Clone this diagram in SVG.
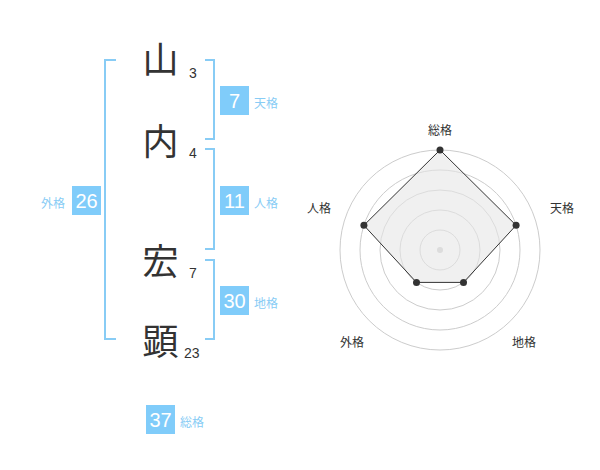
<svg xmlns="http://www.w3.org/2000/svg" width="600" height="470" viewBox="0 0 600 470">
<style>
.ch{font-family:"Noto Sans CJK JP","Noto Sans CJK SC",sans-serif;font-size:36px;fill:#333;text-anchor:middle}
.num{font-family:"Liberation Sans",Arial,sans-serif;font-size:14px;fill:#333}
.br{fill:none;stroke:#88ccf5;stroke-width:2}
.box{fill:#80ccfa}
.bt{font-family:"Liberation Sans",Arial,sans-serif;font-size:20px;fill:#fff;text-anchor:middle}
.lb{font-family:"Noto Sans CJK JP","Noto Sans CJK SC",sans-serif;font-size:12px;fill:#88ccf5}
.rl{font-family:"Noto Sans CJK JP","Noto Sans CJK SC",sans-serif;font-size:12px;fill:#333;text-anchor:middle}
.ring{fill:none;stroke:#ccc;stroke-width:1}
.pt{fill:#333}
</style>
<rect width="600" height="470" fill="#fff"/>
<g id="name">
<text class="ch" x="160.5" y="73">山</text>
<text class="ch" x="160.5" y="155">内</text>
<text class="ch" x="160.5" y="275">宏</text>
<text class="ch" x="160.5" y="355">顕</text>
<text class="num" x="189" y="78">3</text>
<text class="num" x="189" y="158">4</text>
<text class="num" x="189" y="278">7</text>
<text class="num" x="184" y="358">23</text>
</g>
<g id="connectors">
<path class="br" d="M116,60 H105 V339 H116"/>
<path class="br" d="M205,60 H214 V139 H205"/>
<path class="br" d="M205,149 H214 V249 H205"/>
<path class="br" d="M205,260 H214 V339 H205"/>
</g>
<g id="tenkaku">
<rect class="box" x="220" y="86" width="29" height="29"/>
<text class="bt" x="234.5" y="107.5">7</text>
<text class="lb" x="254" y="108">天格</text>
</g>
<g id="jinkaku">
<rect class="box" x="220" y="186" width="29" height="29"/>
<text class="bt" x="234.5" y="207.5">11</text>
<text class="lb" x="254" y="208">人格</text>
</g>
<g id="gaikaku">
<rect class="box" x="72" y="186" width="29" height="29"/>
<text class="bt" x="86.5" y="207.5">26</text>
<text class="lb" x="41" y="208">外格</text>
</g>
<g id="chikaku">
<rect class="box" x="220" y="286" width="29" height="29"/>
<text class="bt" x="234.5" y="307.5">30</text>
<text class="lb" x="254" y="308">地格</text>
</g>
<g id="soukaku">
<rect class="box" x="146" y="405" width="29" height="29"/>
<text class="bt" x="160.5" y="426.5">37</text>
<text class="lb" x="180" y="427">総格</text>
</g>
<g id="radar">
<circle class="ring" cx="440" cy="250" r="20"/>
<circle class="ring" cx="440" cy="250" r="40"/>
<circle class="ring" cx="440" cy="250" r="60"/>
<circle class="ring" cx="440" cy="250" r="80"/>
<circle class="ring" cx="440" cy="250" r="100"/>
<circle cx="440" cy="250" r="3" fill="#ccc"/>
<polygon points="440,150 516.1,225.3 463.5,282.4 416.5,282.4 363.9,225.3" fill="#e6e6e6" fill-opacity="0.6" stroke="#333" stroke-width="1"/>
<circle class="pt" cx="440" cy="150" r="3.5"/>
<circle class="pt" cx="516.1" cy="225.3" r="3.5"/>
<circle class="pt" cx="463.5" cy="282.4" r="3.5"/>
<circle class="pt" cx="416.5" cy="282.4" r="3.5"/>
<circle class="pt" cx="363.9" cy="225.3" r="3.5"/>
<text class="rl" x="440" y="135">総格</text>
<text class="rl" x="562" y="213">天格</text>
<text class="rl" x="319" y="213">人格</text>
<text class="rl" x="352" y="347">外格</text>
<text class="rl" x="524" y="347">地格</text>
</g>
</svg>
